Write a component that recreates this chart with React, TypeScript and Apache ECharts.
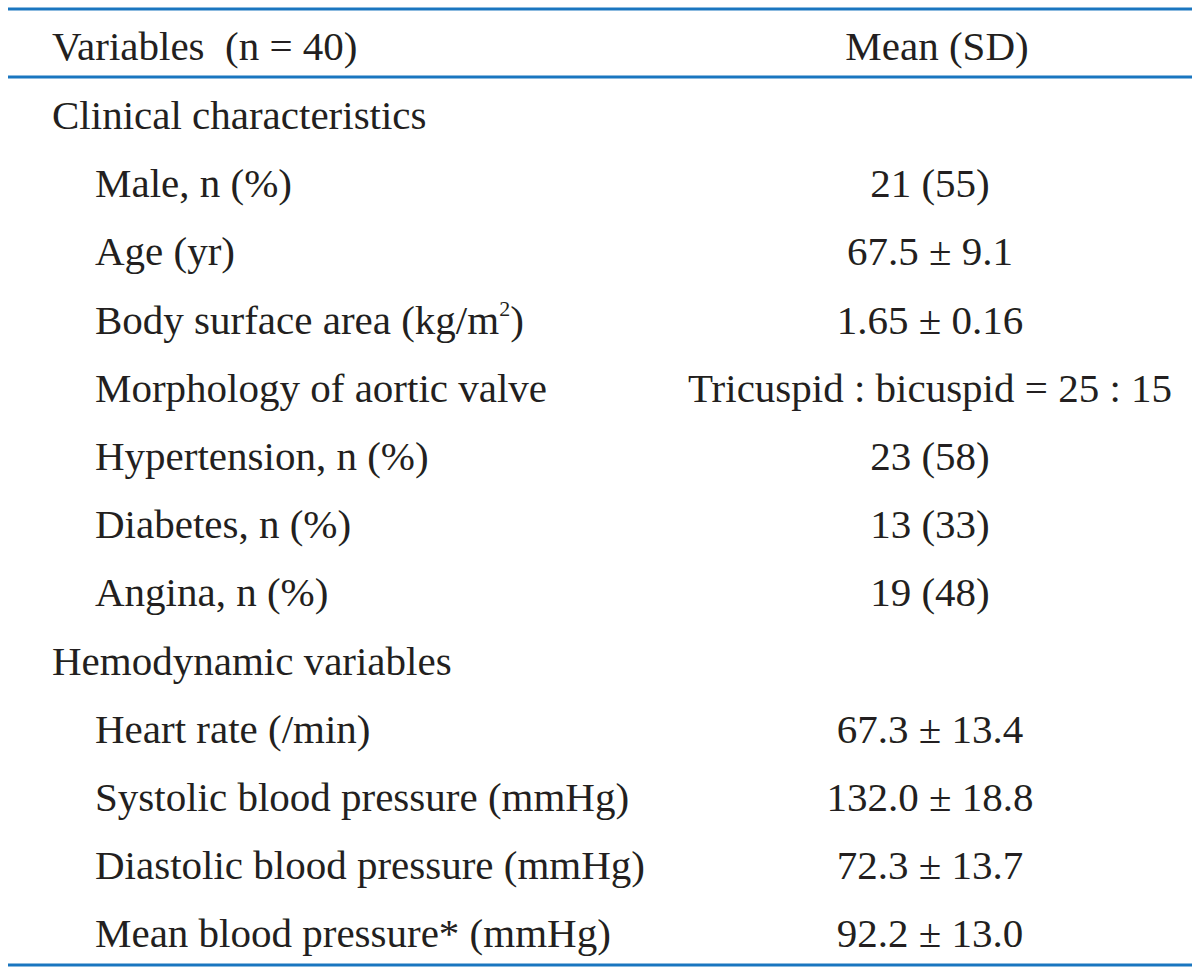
import React, { useEffect, useRef } from "react";
import * as echarts from "echarts";

const headerLabel = "Variables  (n = 40)";
const headerValue = "Mean (SD)";
const labels = [
  "Clinical characteristics",
  "Male, n (%)",
  "Age (yr)",
  "Body surface area (kg/m{sup|2})",
  "Morphology of aortic valve",
  "Hypertension, n (%)",
  "Diabetes, n (%)",
  "Angina, n (%)",
  "Hemodynamic variables",
  "Heart rate (/min)",
  "Systolic blood pressure (mmHg)",
  "Diastolic blood pressure (mmHg)",
  "Mean blood pressure* (mmHg)",
];
const isSection = [true, false, false, false, false, false, false, false, true, false, false, false, false];
const values = [
  "",
  "21 (55)",
  "67.5 ± 9.1",
  "1.65 ± 0.16",
  "Tricuspid : bicuspid = 25 : 15",
  "23 (58)",
  "13 (33)",
  "19 (48)",
  "",
  "67.3 ± 13.4",
  "132.0 ± 18.8",
  "72.3 ± 13.7",
  "92.2 ± 13.0",
];

export default function App() {
  const ref = useRef<HTMLDivElement>(null);
  useEffect(() => {
    document.body.style.margin = "0";
    const chart = echarts.init(ref.current!, null, { renderer: "svg" });
    const font = "'Liberation Serif', 'DejaVu Serif', serif";
    const color = "#231f20";
    const fs = 41;
    const lineColor = "#1a76c0";
    const elements: any[] = [];
    const lineY = [9, 77, 965];
    lineY.forEach((y) =>
      elements.push({
        type: "line",
        shape: { x1: 8, y1: y, x2: 1192, y2: y },
        style: { stroke: lineColor, lineWidth: 3 },
      })
    );
    const textEl = (x: number, y: number, text: string, align: string) => ({
      type: "text",
      x,
      y,
      style: {
        text,
        fill: color,
        font: `${fs}px ${font}`,
        fontSize: fs,
        fontFamily: font,
        textAlign: align,
        textVerticalAlign: "middle",
        verticalAlign: "middle",
        rich: {
          sup: { fontSize: 22, fontFamily: font, fill: color, verticalAlign: "top", lineHeight: 44, padding: [0, 0, 20, 0] },
        },
      },
    });
    elements.push(textEl(52, 46, headerLabel, "left"));
    elements.push(textEl(937, 46, headerValue, "center"));
    const y0 = 115;
    const step = 68.2;
    labels.forEach((l, i) => {
      const y = y0 + i * step;
      elements.push(textEl(isSection[i] ? 52 : 95, y, l, "left"));
      if (values[i]) elements.push(textEl(930, y, values[i], "center"));
    });
    chart.setOption({
      animation: false,
      backgroundColor: "#ffffff",
      graphic: { elements },
    });
    return () => chart.dispose();
  }, []);
  return <div ref={ref} style={{ width: 1200, height: 974 }} />;
}
